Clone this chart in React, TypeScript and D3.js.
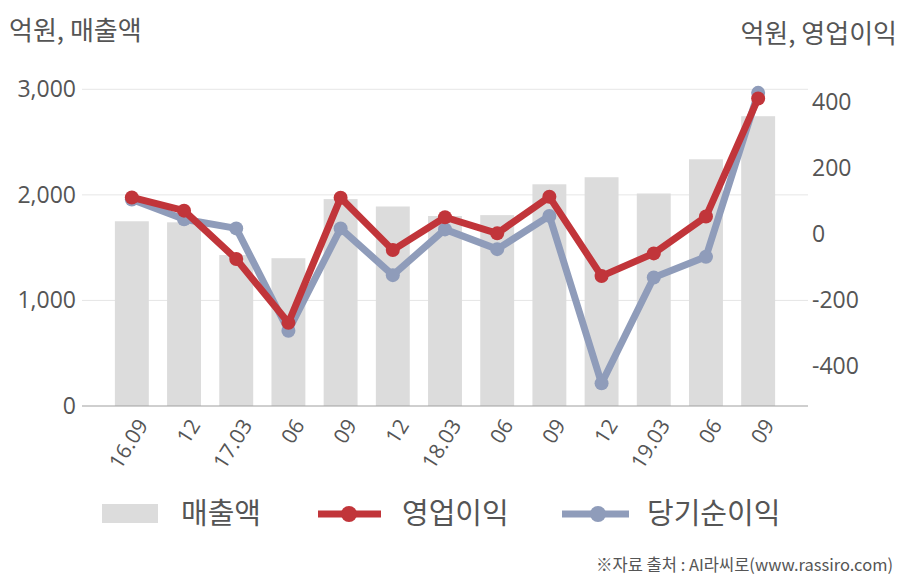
import React from "react";
import * as d3 from "d3";

const categories = ["16.09", "12", "17.03", "06", "09", "12 ", "18.03", "06 ", "09 ", "12  ", "19.03", "06  ", "09  "];
const labels = ["16.09", "12", "17.03", "06", "09", "12", "18.03", "06", "09", "12", "19.03", "06", "09"];
const sales = [1750, 1740, 1430, 1400, 1960, 1890, 1800, 1808, 2100, 2167, 2013, 2337, 2745];
const operatingProfit = [111, 71, -76, -270, 110, -49, 51, 2, 113, -128, -59, 53, 412];
const netProfit = [105, 45, 17, -294, 17, -125, 14, -46, 55, -454, -132, -69, 429];
const leftTicks = [0, 1000, 2000, 3000];
const rightTicks = [-400, -200, 0, 200, 400];

const W = 908;
const H = 580;
const KR = "'Noto Sans CJK KR', 'Noto Sans', sans-serif";
const NUM = "'Open Sans', 'Noto Sans CJK KR', sans-serif";
const TEXT = "#555";
const RED = "#c1353a";
const BLUE = "#8f9cba";
const BAR = "#dcdcdc";

export default function App() {
  const x = d3.scaleBand<string>().domain(categories).range([82, 808]).paddingInner(0.35).paddingOuter(0.63);
  const yL = d3.scaleLinear().domain([0, 3000]).range([406, 89.3]);
  const yR = d3.scaleLinear().domain([-400, 400]).range([365.6, 102.4]);
  const cx = (i: number) => (x(categories[i]) as number) + x.bandwidth() / 2;
  const line = d3.line<number>().x((_, i) => cx(i)).y((d) => yR(d));

  return (
    <svg width={W} height={H} style={{ position: "absolute", left: 0, top: 0, background: "#fff" }}>
      {/* titles */}
      <text x={9} y={40} fontFamily={KR} fontSize={26} fill={TEXT}>억원, 매출액</text>
      <text x={897} y={43} fontFamily={KR} fontSize={26} fill={TEXT} textAnchor="end">억원, 영업이익</text>

      {/* gridlines */}
      {leftTicks.filter((t) => t > 0).map((t) => (
        <line key={"g" + t} x1={82} x2={808} y1={yL(t)} y2={yL(t)} stroke="#e6e6e6" strokeWidth={1} />
      ))}

      {/* bars */}
      {sales.map((v, i) => (
        <rect key={"b" + i} x={x(categories[i])} y={yL(v)} width={x.bandwidth()} height={yL(0) - yL(v)} fill={BAR} />
      ))}

      {/* axis line */}
      <line x1={82} x2={808} y1={yL(0)} y2={yL(0)} stroke="#a0a0a0" strokeWidth={1.2} />

      {/* left ticks */}
      {leftTicks.map((t) => (
        <text key={"l" + t} x={76} y={yL(t)} dy="0.35em" textAnchor="end" fontFamily={NUM} fontSize={23} fill={TEXT}>
          {d3.format(",")(t)}
        </text>
      ))}

      {/* right ticks */}
      {rightTicks.map((t) => (
        <text key={"r" + t} x={812} y={yR(t)} dy="0.35em" textAnchor="start" fontFamily={NUM} fontSize={23} fill={TEXT}>
          {t < 0 ? "-" + Math.abs(t) : String(t)}
        </text>
      ))}

      {/* x labels */}
      {labels.map((l, i) => (
        <text key={"x" + i} transform={`translate(${cx(i) + 17},${425}) rotate(-58)`} textAnchor="end" fontFamily={NUM} fontSize={21} fill={TEXT}>
          {l}
        </text>
      ))}

      {/* net profit line */}
      <path d={line(netProfit) || ""} fill="none" stroke={BLUE} strokeWidth={7} strokeLinejoin="round" />
      {netProfit.map((v, i) => (
        <circle key={"n" + i} cx={cx(i)} cy={yR(v)} r={7} fill={BLUE} />
      ))}

      {/* operating profit line */}
      <path d={line(operatingProfit) || ""} fill="none" stroke={RED} strokeWidth={7} strokeLinejoin="round" />
      {operatingProfit.map((v, i) => (
        <circle key={"o" + i} cx={cx(i)} cy={yR(v)} r={7} fill={RED} />
      ))}

      {/* legend */}
      <rect x={102} y={504} width={56} height={19} fill={BAR} />
      <text x={181} y={514} dy="0.36em" fontFamily={KR} fontSize={29} fill={TEXT}>매출액</text>
      <line x1={318} x2={381} y1={514} y2={514} stroke={RED} strokeWidth={7} />
      <circle cx={349} cy={514} r={8} fill={RED} />
      <text x={402} y={514} dy="0.36em" fontFamily={KR} fontSize={29} fill={TEXT}>영업이익</text>
      <line x1={562} x2={629} y1={514} y2={514} stroke={BLUE} strokeWidth={7} />
      <circle cx={598} cy={514} r={8} fill={BLUE} />
      <text x={647} y={514} dy="0.36em" fontFamily={KR} fontSize={29} fill={TEXT}>당기순이익</text>

      {/* source */}
      <text x={893} y={565} dy="0.35em" textAnchor="end" fontFamily={KR} fontSize={16.5} fill={TEXT}>
        ※자료 출처 : AI라씨로(www.rassiro.com)
      </text>
    </svg>
  );
}
